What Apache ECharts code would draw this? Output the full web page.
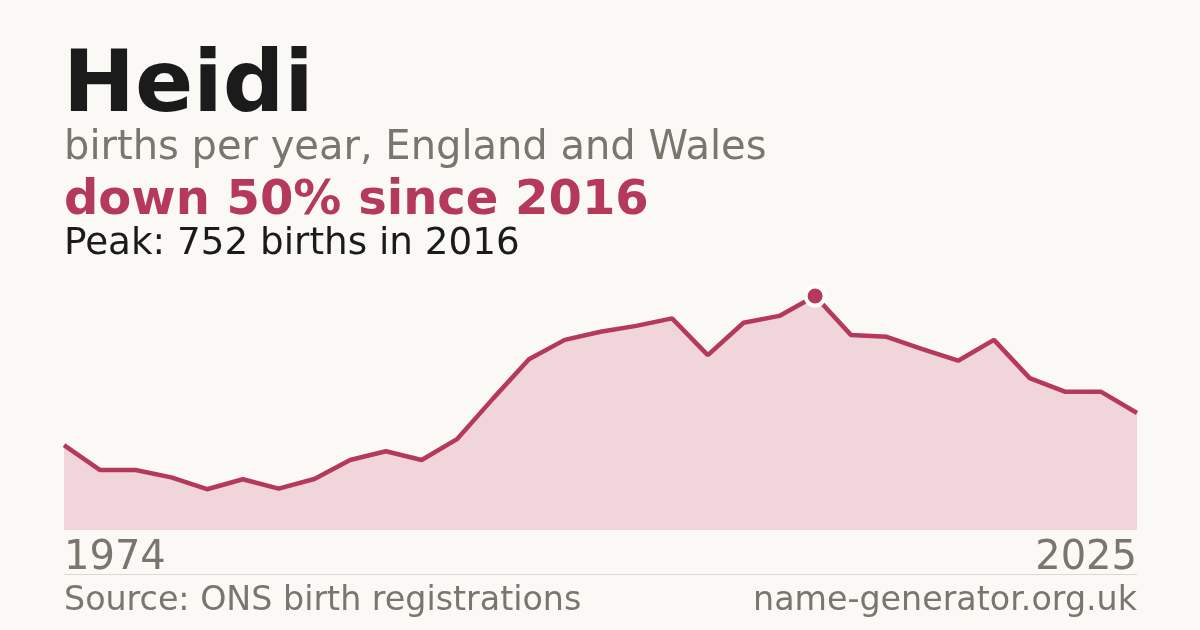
<!DOCTYPE html>
<html>
<head>
<meta charset="utf-8">
<script src="https://cdn.jsdelivr.net/npm/echarts@6/dist/echarts.min.js"></script>
<style>
html,body{margin:0;padding:0;background:#faf9f5;}
#chart{width:1200px;height:630px;}
</style>
</head>
<body>
<div id="chart"></div>
<script>
// Category labels (only the endpoints are labelled in the original)
const categories = ['1974','','','','','','','','','','','','','','','','','','','','','','','','','','','','','','2025'];
// Births per year
const births = [273,193,193,169,131,163,133,164,225,253,225,293,423,549,611,637,656,680,562,666,688,752,627,621,581,544,611,488,444,444,376];

const titleText = 'Heidi';
const subtitleText = 'births per year, England and Wales';
const changeText = 'down 50% since 2016';
const peakText = 'Peak: 752 births in 2016';
const sourceText = 'Source: ONS birth registrations';
const siteText = 'name-generator.org.uk';

const FONT = '"DejaVu Sans", sans-serif';
const RED = '#b5395a';
const GREY = '#7a756d';

let peakIdx = 0;
births.forEach((v, i) => { if (v > births[peakIdx]) peakIdx = i; });

const last = categories.length - 1;
const axisData = categories.map((c, i) => ({
  value: c,
  textStyle: { align: i === 0 ? 'left' : (i === last ? 'right' : 'center') }
}));

const chart = echarts.init(document.getElementById('chart'), null, {renderer: 'canvas'});
chart.setOption({
  backgroundColor: '#faf9f5',
  animation: false,
  grid: { left: 64, right: 63, top: 296, bottom: 100 },
  xAxis: {
    type: 'category',
    data: axisData,
    boundaryGap: false,
    axisLine: { show: false },
    axisTick: { show: false },
    splitLine: { show: false },
    axisLabel: {
      interval: 0,
      margin: 9,
      verticalAlign: 'middle',
      fontFamily: FONT,
      fontSize: 40,
      color: GREY
    }
  },
  yAxis: {
    type: 'value',
    min: 0,
    max: 752,
    show: false
  },
  series: [
    {
      type: 'line',
      data: births,
      showSymbol: false,
      lineStyle: { color: RED, width: 4.5 },
      areaStyle: { color: '#f0d5da', opacity: 1 },
      z: 2
    },
    {
      type: 'scatter',
      data: [[peakIdx, births[peakIdx]]],
      symbol: 'circle',
      symbolSize: 19,
      itemStyle: { color: RED, borderColor: '#ffffff', borderWidth: 4, opacity: 1 },
      z: 5
    }
  ],
  graphic: [
    { type: 'text', style: { text: titleText, x: 63, y: 89, font: 'bold 86px ' + FONT, fill: '#1b1b1b', textVerticalAlign: 'middle' } },
    { type: 'text', style: { text: subtitleText, x: 64, y: 149, font: '40px ' + FONT, fill: GREY, textVerticalAlign: 'middle' } },
    { type: 'text', style: { text: changeText, x: 64, y: 202, font: 'bold 48px ' + FONT, fill: RED, textVerticalAlign: 'middle' } },
    { type: 'text', style: { text: peakText, x: 64, y: 244.5, font: '37.3px ' + FONT, fill: '#1b1b1b', textVerticalAlign: 'middle' } },
    { type: 'line', shape: { x1: 64, y1: 574.5, x2: 1137, y2: 574.5 }, style: { stroke: '#dcd9d2', lineWidth: 1 } },
    { type: 'text', style: { text: sourceText, x: 64, y: 601.5, font: '33.3px ' + FONT, fill: GREY, textVerticalAlign: 'middle' } },
    { type: 'text', style: { text: siteText, x: 1137, y: 601.5, font: '33.3px ' + FONT, fill: GREY, textAlign: 'right', textVerticalAlign: 'middle' } }
  ]
});
</script>
</body>
</html>
